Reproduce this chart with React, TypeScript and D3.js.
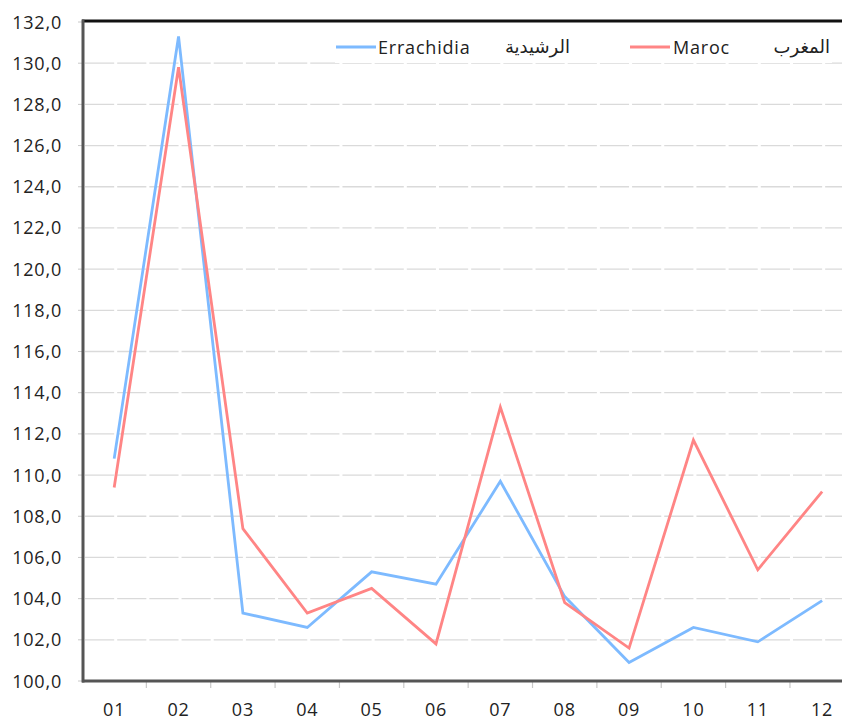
import React, { useEffect, useRef } from 'react';
import * as d3 from 'd3';

// Month categories
const months = ['01', '02', '03', '04', '05', '06', '07', '08', '09', '10', '11', '12'];

// Series values
const errachidia = [110.8, 131.3, 103.3, 102.6, 105.3, 104.7, 109.7, 104.1, 100.9, 102.6, 101.9, 103.9];
const maroc = [109.4, 129.8, 107.4, 103.3, 104.5, 101.8, 113.3, 103.8, 101.6, 111.7, 105.4, 109.2];

// Y tick values
const yTicks = d3.range(100, 132.001, 2);

const W = 842;
const H = 720;
const FONT = '"Open Sans", "Noto Sans", sans-serif';

const App: React.FC = () => {
  const ref = useRef<SVGSVGElement>(null);

  useEffect(() => {
    if (!ref.current) return;
    const svg = d3.select(ref.current);
    svg.selectAll('*').remove();

    const left = 82;
    const top = 22;
    const bottom = 681;
    const step = 64.36;

    const x = d3.scaleBand<string>()
      .domain(months)
      .range([left, left + step * months.length])
      .padding(0);
    const cx = (m: string) => (x(m) || 0) + x.bandwidth() / 2;

    const y = d3.scaleLinear().domain([100, 132]).range([bottom, top]);

    // gridlines
    const half = x.bandwidth() / 2;
    svg.append('g')
      .selectAll('line')
      .data(yTicks.filter(t => t > 100 && t < 132))
      .join('line')
      .attr('x1', left + 2)
      .attr('x2', W)
      .attr('y1', d => y(d))
      .attr('y2', d => y(d))
      .attr('stroke', '#dadada')
      .attr('stroke-width', 1.3)
      .attr('stroke-dasharray', `${half - 3},3`)
      .attr('stroke-dashoffset', -1);

    // y tick marks
    svg.append('g')
      .selectAll('line')
      .data(yTicks)
      .join('line')
      .attr('x1', left - 4)
      .attr('x2', left)
      .attr('y1', d => y(d))
      .attr('y2', d => y(d))
      .attr('stroke', '#c8c8c8')
      .attr('stroke-width', 1);

    // y labels
    svg.append('g')
      .selectAll('text')
      .data(yTicks)
      .join('text')
      .attr('x', 62)
      .attr('y', d => y(d) + 6.5)
      .attr('text-anchor', 'end')
      .attr('font-family', FONT)
      .attr('font-size', 18)
      .attr('letter-spacing', 0.8)
      .attr('fill', '#222')
      .text(d => d.toFixed(1).replace('.', ','));

    // x tick marks at band boundaries
    svg.append('g')
      .selectAll('line')
      .data(months.slice(1))
      .join('line')
      .attr('x1', d => x(d) || 0)
      .attr('x2', d => x(d) || 0)
      .attr('y1', bottom)
      .attr('y2', bottom + 7)
      .attr('stroke', '#c8c8c8')
      .attr('stroke-width', 1.2);

    // x labels
    svg.append('g')
      .selectAll('text')
      .data(months)
      .join('text')
      .attr('x', d => cx(d))
      .attr('y', 716)
      .attr('text-anchor', 'middle')
      .attr('font-family', FONT)
      .attr('font-size', 18)
      .attr('letter-spacing', 0.8)
      .attr('fill', '#222')
      .text(d => d);

    // frame: top black, left and bottom dark gray
    svg.append('line')
      .attr('x1', left).attr('x2', W)
      .attr('y1', top - 1).attr('y2', top - 1)
      .attr('stroke', '#111').attr('stroke-width', 3);
    svg.append('line')
      .attr('x1', left + 1).attr('x2', left + 1)
      .attr('y1', top - 2.5).attr('y2', bottom + 1.5)
      .attr('stroke', '#555').attr('stroke-width', 3);
    svg.append('line')
      .attr('x1', left).attr('x2', W)
      .attr('y1', bottom).attr('y2', bottom)
      .attr('stroke', '#555').attr('stroke-width', 3);

    // legend box (white) hiding gridline behind it
    svg.append('rect')
      .attr('x', 335).attr('y', top + 2)
      .attr('width', 497).attr('height', 39)
      .attr('fill', '#fff');

    // series lines
    const line = d3.line<number>()
      .x((_, i) => cx(months[i]))
      .y(d => y(d));

    const series = [
      { name: 'Errachidia', ar: 'الرشيدية', values: errachidia, color: '#7dbaff' },
      { name: 'Maroc', ar: 'المغرب', values: maroc, color: '#ff8585' },
    ];

    series.forEach(s => {
      svg.append('path')
        .datum(s.values)
        .attr('fill', 'none')
        .attr('stroke', s.color)
        .attr('stroke-width', 2.8)
        .attr('stroke-linejoin', 'miter')
        .attr('d', line);
    });

    // legend
    const legendPos = [
      { lx: 336, tx: 378, ax: 570 },
      { lx: 630, tx: 673, ax: 830 },
    ];
    series.forEach((s, i) => {
      const p = legendPos[i];
      svg.append('line')
        .attr('x1', p.lx).attr('x2', p.lx + 40)
        .attr('y1', 47).attr('y2', 47)
        .attr('stroke', s.color).attr('stroke-width', 2.8);
      svg.append('text')
        .attr('x', p.tx).attr('y', 54)
        .attr('font-family', FONT)
        .attr('font-size', 18)
        .attr('letter-spacing', 0.8)
        .attr('fill', '#222')
        .text(s.name);
      svg.append('text')
        .attr('x', p.ax).attr('y', 53)
        .attr('text-anchor', 'end')
        .attr('font-family', '"Noto Sans", "DejaVu Sans", sans-serif')
        .attr('font-size', 18)
        .attr('fill', '#222')
        .text(s.ar);
    });
  }, []);

  return (
    <div style={{ position: 'absolute', left: 0, top: 0, width: W, height: H, background: '#fff' }}>
      <svg ref={ref} width={W} height={H} style={{ display: 'block' }} />
    </div>
  );
};

export default App;
